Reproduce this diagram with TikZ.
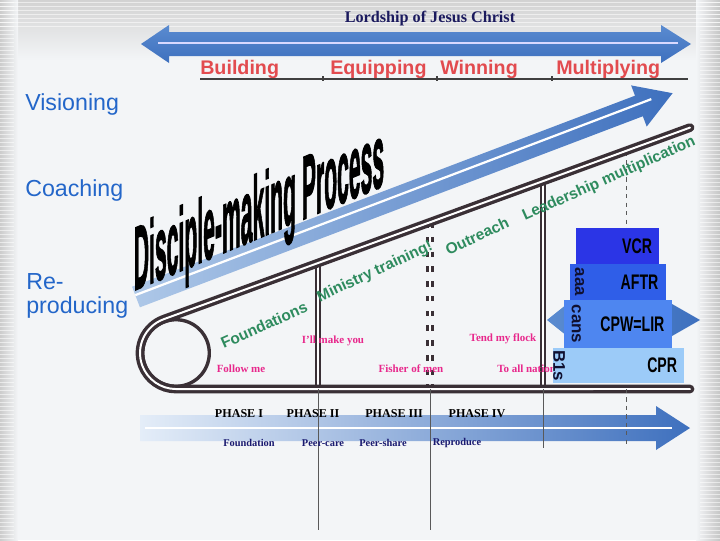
\documentclass[tikz,border=0pt]{standalone}
\usepackage{fontspec}
\setmainfont{Liberation Serif}
\setsansfont{Liberation Sans}
\usetikzlibrary{positioning}

\definecolor{bgwhite}{HTML}{F3F5F7}
\definecolor{lordnavy}{HTML}{1B1A5E}
\definecolor{wordred}{HTML}{E24B4F}
\definecolor{sideblue}{HTML}{2366C9}
\definecolor{beltdark}{HTML}{3A3036}
\definecolor{pinkish}{HTML}{E8288C}
\definecolor{slogangreen}{HTML}{2E8B5E}
\definecolor{arrowblue}{HTML}{3E70BE}
\definecolor{arrowlight}{HTML}{AEC8E8}
\definecolor{toplight}{HTML}{5A8BD0}
\definecolor{botlight}{HTML}{E4EDF8}
\definecolor{vcrblue}{HTML}{2B35E6}
\definecolor{aftrblue}{HTML}{2F5EE8}
\definecolor{cpwblue}{HTML}{4E86F0}
\definecolor{cprblue}{HTML}{9CCBF8}
\definecolor{phasenavy}{HTML}{1A1A70}
\definecolor{tagnavy}{HTML}{101030}

\begin{document}
\begin{tikzpicture}[x=0.025cm, y=-0.025cm,
  redword/.style={font=\sffamily\bfseries\fontsize{14}{14}\selectfont, text=wordred, inner sep=0pt, anchor=base west},
  sidelabel/.style={font=\sffamily\fontsize{16.5}{17}\selectfont, text=sideblue, inner sep=0pt, align=left, anchor=base west},
  belt/.style={draw=beltdark, line width=2.4pt, double=white, double distance=1.4pt, line cap=round},
  divider/.style={draw=beltdark, line width=1.6pt, double=white, double distance=0.9pt},
  slogan/.style={font=\sffamily\bfseries\fontsize{11}{11}\selectfont, text=slogangreen, inner sep=0pt},
  pinktext/.style={font=\bfseries\fontsize{7.8}{8}\selectfont, text=pinkish, inner sep=0pt},
  phasetag/.style={font=\bfseries\fontsize{8.6}{9}\selectfont, inner sep=0pt},
  phasenote/.style={font=\bfseries\fontsize{7.4}{8}\selectfont, text=phasenavy, inner sep=0pt},
  tier/.style={inner sep=0pt, draw=none},
  tierlabel/.style={font=\sffamily\bfseries\fontsize{15}{15}\selectfont, xscale=0.67, inner sep=0pt, anchor=east},
  tiertag/.style={font=\sffamily\bfseries\fontsize{12}{12}\selectfont, text=tagnavy, rotate=-90, inner sep=0pt},
  thinrule/.style={draw=gray!70!black, line width=0.6pt},
  underrule/.style={draw=black!75, line width=1.3pt},
  stripe/.style={draw=white, line width=0.5pt, opacity=0.55}]

\useasboundingbox (0,0) rectangle (720,540);

% Background
\fill[bgwhite] (0,0) rectangle (720,540);
\shade[top color=gray!35, bottom color=bgwhite] (0,0) rectangle (720,60);
\shade[left color=gray!40, right color=bgwhite] (0,0) rectangle (18,540);
\shade[left color=bgwhite, right color=gray!45] (696,0) rectangle (720,540);
\foreach \s in {2,6,...,538} {
  \draw[stripe] (0,\s) -- (14,\s);
  \draw[stripe] (700,\s) -- (720,\s);
}
\foreach \s in {2,6,...,26}
  \draw[stripe] (0,\s) -- (720,\s);

% Top arrow (Lordship)
\shade[top color=toplight, bottom color=arrowblue] (141,44) -- (169,25) -- (169,32) -- (661,32) -- (661,25) -- (691,44) -- (661,63) -- (661,56) -- (169,56) -- (169,63) -- cycle;
\draw[line width=2pt, white!85!blue] (158,43) -- (678,43);
\node[font=\bfseries\fontsize{11.5}{12}\selectfont, text=lordnavy] (lordship) at (430,19) {Lordship of Jesus Christ};

% Stages
\node[redword] (building) at (200,74) {Building};
\node[redword] (equipping) at (330,74) {Equipping};
\node[redword] (winning) at (440,74) {Winning};
\node[redword] (multiplying) at (556,74) {Multiplying};
\draw[underrule] (200,79) -- (688,79);
\foreach \t in {323,437,552}
  \draw[underrule] (\t,76) -- (\t,81);

% Left side
\node[sidelabel] (visioning) at (25,110) {Visioning};
\node[sidelabel] (coaching) at (25,196) {Coaching};
\node[sidelabel] (reproducing) at (26,313) {Re-\\producing};

% Diagonal arrow
\begin{scope}[shift={(136,297)}, rotate=20.8]
  \shade[left color=arrowlight, right color=arrowblue] (0,-11) -- (538,-11) -- (538,-22) -- (574,0) -- (538,22) -- (538,11) -- (0,11) -- cycle;
  \draw[white, line width=1.6pt] (0,-2) -- (552,-2);
\end{scope}
\node[font=\sffamily\bfseries\fontsize{64}{64}\selectfont\addfontfeatures{FakeBold=2}, inner sep=0pt, anchor=base, yslant=0.42, xscale=0.235] (process) at (259,238) {Disciple-making Process};

% Phase dividers above the belt
\draw[divider] (318,263) -- (318,389);
\draw[divider] (543,181) -- (543,389);
\draw[divider, line width=2.4pt, double distance=1pt, dash pattern=on 4pt off 6.5pt] (430,222) -- (430,389);
\draw[thinrule, dashed] (626,152) -- (626,228);

% Conveyor belt
\draw[beltdark, line width=2.4pt] (176,353) circle[radius=33.3];
\draw[belt] (690,127.6) -- (163.7,319.2) arc[start angle=250, end angle=90, radius=36] -- (690,389);

% Slogans on the belt
\node[slogan, rotate=24] (foundations) at (264,325) {Foundations};
\node[slogan, rotate=25] (ministry) at (375,272) {Ministry training!};
\node[slogan, rotate=25] (outreach) at (477,236) {Outreach};
\node[slogan, rotate=24] (leadership) at (609,179) {Leadership multiplication};

% Calls
\node[pinktext] (follow) at (241,369) {Follow me};
\node[pinktext] (makeyou) at (333,341) {I'll make you};
\node[pinktext] (fisher) at (411,369) {Fisher of men};
\node[pinktext] (tend) at (503,339) {Tend my flock};
\node[pinktext, anchor=west] (nations) at (497,369) {To all nations};

% Pyramid
\shade[left color=toplight, right color=arrowblue] (547,320) -- (567,304) -- (567,312) -- (672,312) -- (672,304) -- (700,320) -- (672,336) -- (672,328) -- (567,328) -- (567,336) -- cycle;
\node[tier, fill=vcrblue, minimum width=2.075cm, minimum height=0.9cm] (vcr) at (617.5,246) {};
\node[tier, fill=aftrblue, minimum width=2.4cm, minimum height=0.9cm] (aftr) at (618,282) {};
\node[tier, fill=cpwblue, minimum width=2.7cm, minimum height=1.2cm] (cpw) at (618,324) {};
\node[tier, fill=cprblue, minimum width=3.275cm, minimum height=0.875cm] (cpr) at (618.5,365.5) {};
\node[tierlabel] (vcrtext) at ([xshift=-5pt]vcr.east) {VCR};
\node[tierlabel] (aftrtext) at ([xshift=-5.5pt]aftr.east) {AFTR};
\node[tierlabel] (cpwtext) at ([xshift=-5.5pt]cpw.east) {CPW=LIR};
\node[tierlabel] (cprtext) at ([xshift=-5pt]cpr.east) {CPR};
\node[tiertag] (aaa) at ([xshift=7pt]aftr.west) {aaa};
\node[tiertag] (cans) at ([xshift=9pt]cpw.west) {cans};
\node[tiertag] (bones) at ([xshift=4.5pt]cpr.west) {B1s};

% Bottom arrow (phases)
\shade[left color=botlight, right color=arrowblue] (140,415) -- (656,415) -- (656,406) -- (690,428) -- (656,450) -- (656,441) -- (140,441) -- cycle;
\draw[white, line width=2pt] (145,428) -- (672,428);
\draw[thinrule] (318,389) -- (318,530);
\draw[thinrule] (430,389) -- (430,530);
\draw[thinrule] (543,389) -- (543,448);
\draw[thinrule, dashed] (626,389) -- (626,448);

\node[phasetag] (p1) at (239,414) {PHASE I};
\node[phasetag] (p2) at (313,414) {PHASE II};
\node[phasetag] (p3) at (394,414) {PHASE III};
\node[phasetag] (p4) at (477,414) {PHASE IV};

\node[phasenote] (n1) at (249,443) {Foundation};
\node[phasenote] (n2) at (323,443) {Peer-care};
\node[phasenote] (n3) at (383,443) {Peer-share};
\node[phasenote] (n4) at (457,443) {Reproduce};

\end{tikzpicture}
\end{document}
